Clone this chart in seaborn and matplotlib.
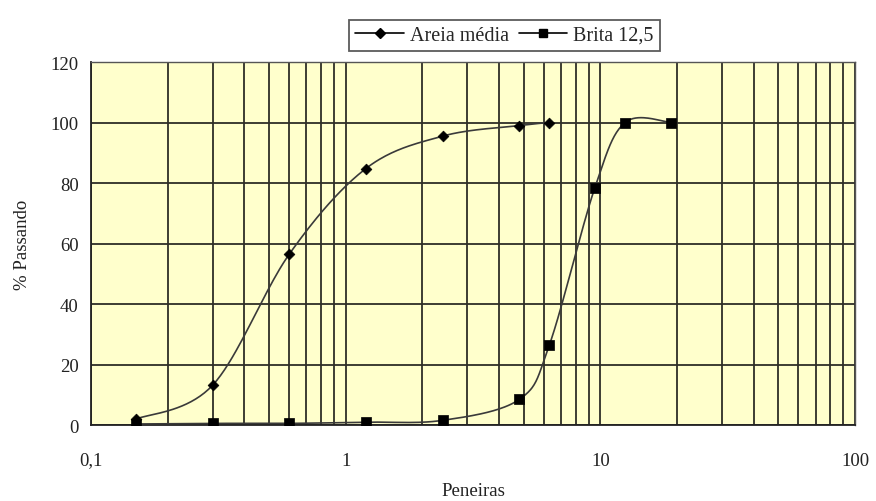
import numpy as np
import pandas as pd
import matplotlib
matplotlib.use("Agg")
import matplotlib.pyplot as plt
from matplotlib.ticker import FixedLocator, LogLocator, NullFormatter, FuncFormatter
from matplotlib.lines import Line2D
import seaborn as sns

# Data
areia_peneira = [0.15, 0.3, 0.6, 1.2, 2.4, 4.8, 6.3]
areia_passando = [2.0, 13.2, 56.5, 84.8, 95.5, 99.0, 100.0]

brita_peneira = [0.15, 0.3, 0.6, 1.2, 2.4, 4.8, 6.3, 9.5, 12.5, 19.0]
brita_passando = [0.4, 0.6, 0.6, 1.0, 1.6, 8.5, 26.4, 78.3, 100.0, 100.0]

x_ticks = [0.1, 1, 10, 100]
x_ticklabels = ["0,1", "1", "10", "100"]
y_ticks = [0, 20, 40, 60, 80, 100, 120]

# pixel scale of the reference (per decade / per percent) for excel-like smoothing
PX_DECADE = 254.7
PX_PCT = 3.025


def excel_smooth(xs, ys, n=40):
    """Bezier smoothing similar to Excel's 'smoothed line', done in screen space."""
    u = np.log10(np.asarray(xs)) * PX_DECADE
    v = np.asarray(ys) * PX_PCT
    pts = np.column_stack([u, v])
    out = [pts[0]]
    t = np.linspace(0, 1, n)[1:, None]
    for i in range(len(pts) - 1):
        p0 = pts[i - 1] if i > 0 else pts[i]
        p1 = pts[i]
        p2 = pts[i + 1]
        p3 = pts[i + 2] if i + 2 < len(pts) else pts[i + 1]
        c1 = p1 + (p2 - p0) / 6
        c2 = p2 - (p3 - p1) / 6
        seg = ((1 - t) ** 3) * p1 + 3 * ((1 - t) ** 2) * t * c1 + 3 * (1 - t) * t ** 2 * c2 + t ** 3 * p2
        out.extend(seg)
    out = np.array(out)
    return 10 ** (out[:, 0] / PX_DECADE), out[:, 1] / PX_PCT


sns.set_theme(style="white")
plt.rcParams["font.family"] = ["Liberation Serif", "DejaVu Serif"]

fig = plt.figure(figsize=(8.76, 5.02), dpi=100)
ax = fig.add_axes([0.104, 0.151, 0.872, 0.7235])
ax.set_facecolor("#FFFFCC")

line_color = "#3a3a3a"
grid_color = "#2e2e26"

for xs, ys, marker, size in [
    (areia_peneira, areia_passando, "D", 30),
    (brita_peneira, brita_passando, "s", 45),
]:
    sx, sy = excel_smooth(xs, ys)
    smooth = pd.DataFrame({"x": sx, "y": sy})
    sns.lineplot(data=smooth, x="x", y="y", sort=False, color=line_color,
                 linewidth=1.2, ax=ax, zorder=3)
    pts = pd.DataFrame({"x": xs, "y": ys})
    sns.scatterplot(data=pts, x="x", y="y", marker=marker, s=size, color="black",
                    edgecolor="black", linewidth=0.5, ax=ax, zorder=4)

ax.set_xscale("log")
ax.set_xlim(0.1, 100)
ax.set_ylim(0, 120)

ax.xaxis.set_major_locator(FixedLocator(x_ticks))
ax.xaxis.set_major_formatter(FuncFormatter(lambda v, p: x_ticklabels[x_ticks.index(v)] if v in x_ticks else ""))
ax.xaxis.set_minor_locator(LogLocator(base=10, subs=np.arange(2, 10)))
ax.xaxis.set_minor_formatter(NullFormatter())
ax.set_yticks(y_ticks)

ax.grid(True, which="both", axis="x", color=grid_color, linewidth=1.3)
ax.grid(True, which="major", axis="y", color=grid_color, linewidth=1.3)
ax.set_axisbelow(True)

ax.tick_params(axis="both", which="major", direction="out", length=5, width=1.2,
               color="#333333", labelsize=13.5, labelcolor="#222222", pad=4)
ax.tick_params(axis="x", which="major", pad=14)
ax.tick_params(axis="x", which="minor", length=0)

for side, sp in ax.spines.items():
    sp.set_color("#555555")
    sp.set_linewidth(1.0)
ax.spines["left"].set_color("#222222")
ax.spines["bottom"].set_color("#222222")
ax.spines["left"].set_linewidth(1.3)
ax.spines["bottom"].set_linewidth(1.3)

ax.set_xlabel("Peneiras", fontsize=13.5, color="#222222", labelpad=10)
ax.set_ylabel("% Passando", fontsize=13.5, color="#222222", labelpad=14)

handles = [
    Line2D([0], [0], color="black", linewidth=1.2, marker="D", markersize=5),
    Line2D([0], [0], color="black", linewidth=1.2, marker="s", markersize=6),
]
leg = fig.legend(handles, ["Areia média", "Brita 12,5"], loc="center",
                 bbox_to_anchor=(0.576, 0.928), ncol=2, frameon=True, fancybox=False,
                 fontsize=14.5, handlelength=2.4, handletextpad=0.3, columnspacing=0.5,
                 borderpad=0.3, borderaxespad=0)
leg.get_frame().set_edgecolor("#333333")
leg.get_frame().set_linewidth(1.3)

fig.savefig("out.png", dpi=100, facecolor="white")
